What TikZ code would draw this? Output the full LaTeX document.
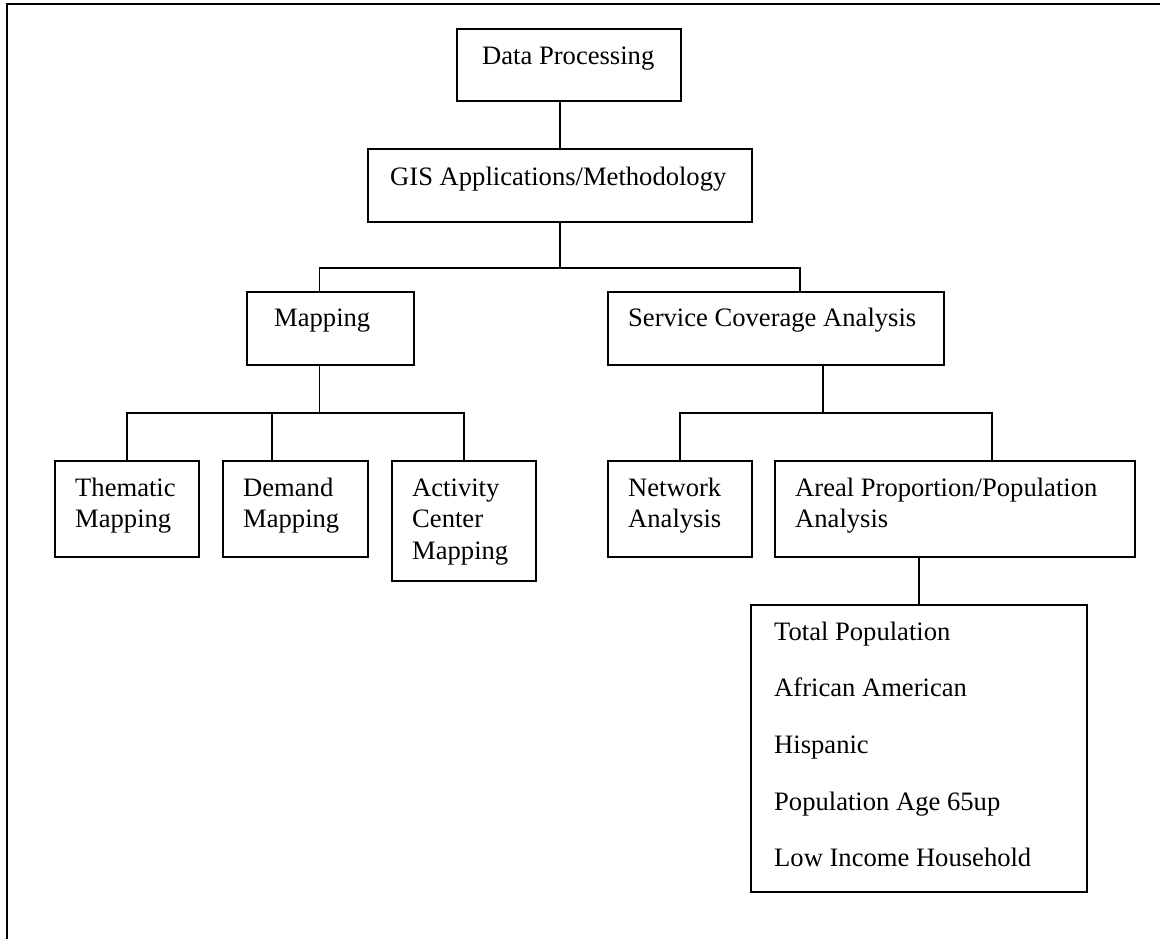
\documentclass[tikz,border=0pt]{standalone}
\usepackage{fontspec}
\setmainfont{Liberation Serif}
\begin{document}
\begin{tikzpicture}[x=1pt,y=-1pt,
  box/.style={draw=black, line width=2pt, rectangle, inner sep=0pt},
  txt/.style={anchor=north west, inner sep=0pt, align=left,
              font=\fontsize{26.6pt}{31.6pt}\selectfont},
  conn/.style={draw=black, line width=1.6pt, line join=miter}]
\useasboundingbox (0,0) rectangle (1160,938);
% frame
\draw[line width=2.2pt] (7,940) -- (7,4) -- (1162,4);
% boxes (left, top, right, bottom)
\newcommand{\mybox}[5]{\node[box, minimum width={#4-#2}, minimum height={#5-#3}] (#1) at ({(#2+#4)/2},{(#3+#5)/2}) {};}
\mybox{dp}{457}{29}{681}{101}
\mybox{gis}{368}{149}{752}{222}
\mybox{map}{247}{292}{414}{365}
\mybox{svc}{608}{292}{944}{365}
\mybox{them}{55}{461}{199}{557}
\mybox{dem}{223}{461}{368}{557}
\mybox{act}{392}{461}{536}{581}
\mybox{net}{608}{461}{752}{557}
\mybox{areal}{775}{461}{1135}{557}
\mybox{pop}{751}{605}{1087}{892}
% texts (north west = baseline - 22.12)
\node[txt] (dpT) at (482,41.9) {\strut Data Processing};
\node[txt] (gisT) at (390,162.9) {\strut GIS Applications/Methodology};
\node[txt] (mapT) at (274,303.9) {\strut Mapping};
\node[txt] (svcT) at (628,303.9) {\strut Service Coverage Analysis};
\node[txt] (themT) at (75,473.9) {\strut Thematic\\\strut Mapping};
\node[txt] (demT) at (243,473.9) {\strut Demand\\\strut Mapping};
\node[txt] (actT) at (412,473.9) {\strut Activity\\\strut Center\\\strut Mapping};
\node[txt] (netT) at (628,473.9) {\strut Network\\\strut Analysis};
\node[txt] (arealT) at (795,473.9) {\strut Areal Proportion/Population\\\strut Analysis};
\node[txt] (popT) at (774,617.9) {\strut Total Population\\[25pt]\strut African American\\[25pt]\strut Hispanic\\[25pt]\strut Population Age 65up\\[25pt]\strut Low Income Household};
% junction coordinates
\coordinate (j1) at (560,268);
\coordinate (bL) at (319.5,268);
\coordinate (bR) at (800,268);
\coordinate (m1) at (319.5,413);
\coordinate (c1) at (127,413);
\coordinate (c2) at (272,413);
\coordinate (c3) at (464,413);
\coordinate (s1) at (823,413);
\coordinate (d1) at (680,413);
\coordinate (d2) at (992,413);
\coordinate (p1) at (919,580);
% connectors
\draw[conn] (dp.south -| j1) -- (gis.north -| j1);
\draw[conn] (gis.south -| j1) -- (j1);
\draw[conn] (map.north -| bL) -- (bL) -- (bR) -- (svc.north -| bR);
\draw[conn] (map.south -| m1) -- (m1);
\draw[conn] (them.north -| c1) -- (c1) -- (c3) -- (act.north -| c3);
\draw[conn] (c2) -- (dem.north -| c2);
\draw[conn] (svc.south -| s1) -- (s1);
\draw[conn] (net.north -| d1) -- (d1) -- (d2) -- (areal.north -| d2);
\draw[conn] (areal.south -| p1) -- (pop.north -| p1);
\end{tikzpicture}
\end{document}
